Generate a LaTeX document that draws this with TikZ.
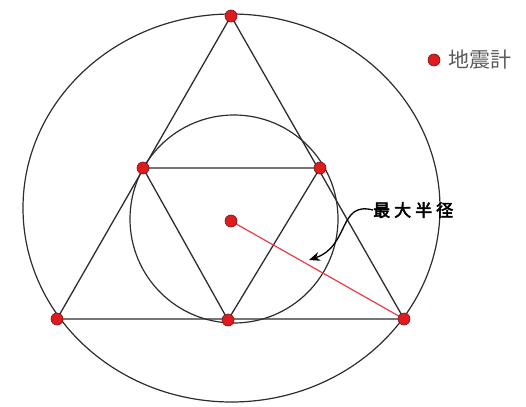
\documentclass[tikz,border=0pt]{standalone}
\usepackage{fontspec}
\newfontfamily\cjk{Noto Sans CJK JP}
\newfontfamily\cjkbold[AutoFakeBold=3]{Noto Sans CJK JP}
\usetikzlibrary{positioning,arrows.meta}

\definecolor{sensorred}{RGB}{222,28,32}
\definecolor{sensorrim}{RGB}{120,20,20}
\definecolor{linegray}{RGB}{45,45,45}
\definecolor{radiusred}{RGB}{232,60,70}
\definecolor{legendgray}{RGB}{90,90,90}

\tikzset{
  sensor/.style={circle, fill=sensorred, draw=sensorrim, line width=0.6pt,
                 inner sep=0pt, minimum size=12pt},
  wire/.style={draw=linegray, line width=1.3pt},
  ring/.style={draw=linegray, line width=1.2pt}
}

\begin{document}
\begin{tikzpicture}[x=1pt, y=-1pt]

\useasboundingbox (0,0) rectangle (526,406);

% sensor positions
\coordinate (top)  at (231,16);
\coordinate (bl)   at (57,319);
\coordinate (br)   at (404,319);
\coordinate (ml)   at (143,168);
\coordinate (mr)   at (320,168);
\coordinate (mb)   at (228,320);
\coordinate (ctr)  at (231,221);

% circles
\draw[ring] (231.5,208) ellipse [x radius=208.5, y radius=194];
\draw[ring] (234,219) circle [radius=104];

% triangles
\draw[wire] (top) -- (bl) -- (br) -- cycle;
\draw[wire] (ml) -- (mr) -- (mb) -- cycle;

% radius
\draw[radiusred, line width=1.2pt] (ctr) -- (br);

% sensors
\foreach \p in {top,bl,br,ml,mr,mb,ctr}
  \node[sensor] (s-\p) at (\p) {};

% label
\node[anchor=west, inner sep=0pt, font=\cjkbold\bfseries\fontsize{17}{17}\selectfont]
  (radlabel) at (373,210) {最\hspace{4pt}大\hspace{4pt}半\hspace{4pt}径};
\coordinate (radtip) at (309,260);
\draw[black, line width=1.3pt, -{Stealth[length=11pt, width=9pt]}]
  (radlabel.west) .. controls (338,201) and (350,246) .. (radtip);

% legend
\node[sensor] (legdot) at (434,60) {};
\node[right=8pt of legdot, inner sep=0pt, text=legendgray,
      font=\cjk\fontsize{21}{21}\selectfont] (legtext) {地震計};

\end{tikzpicture}
\end{document}
